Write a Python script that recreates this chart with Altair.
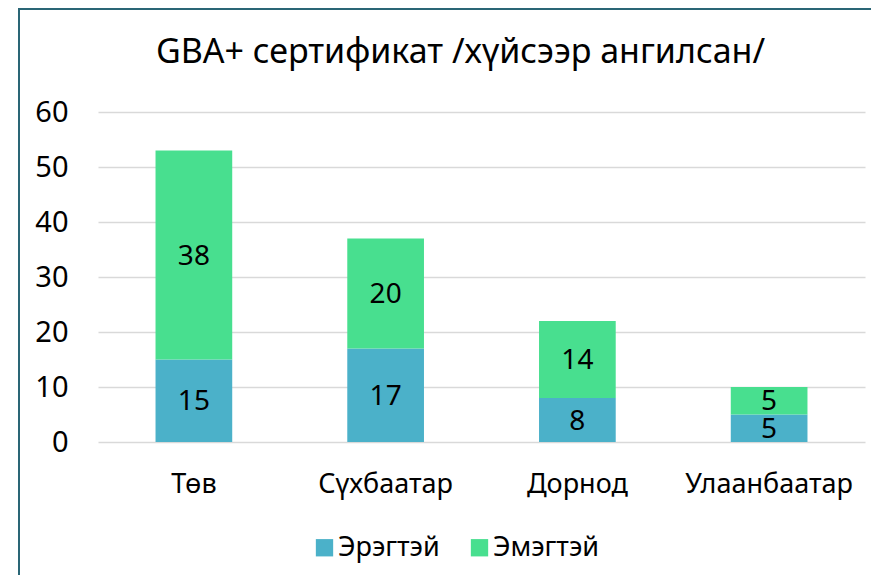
import altair as alt
import pandas as pd

regions = ["Төв", "Сүхбаатар", "Дорнод", "Улаанбаатар"]
male = [15, 17, 8, 5]
female = [38, 20, 14, 5]
series = ["Эрэгтэй", "Эмэгтэй"]
colors = ["#4bb1c9", "#48df8f"]
y_ticks = [0, 10, 20, 30, 40, 50, 60]
title_text = "GBA+ сертификат /хүйсээр ангилсан/"

rows = []
for i, r in enumerate(regions):
    rows.append({"region": r, "sex": series[0], "value": male[i], "ord": 0})
    rows.append({"region": r, "sex": series[1], "value": female[i], "ord": 1})
df = pd.DataFrame(rows)

FONT = "Noto Sans"

base = alt.Chart(df).transform_stack(
    stack="value", groupby=["region"], as_=["v0", "v1"],
    sort=[alt.SortField("ord", order="ascending")]
).transform_calculate(mid="(datum.v0 + datum.v1) / 2")

x_enc = alt.X("region:N", sort=regions, title=None,
              scale=alt.Scale(paddingInner=0.6, paddingOuter=0.3),
              axis=alt.Axis(labelAngle=0, labelFontSize=27, labelFont=FONT,
                            labelColor="#000000", labelPadding=29, ticks=False,
                            domain=False, grid=False))

bars = base.mark_bar().encode(
    x=x_enc,
    y=alt.Y("v0:Q", title=None,
            scale=alt.Scale(domain=[0, 60], nice=False),
            axis=alt.Axis(values=y_ticks, labelFontSize=29, labelFont=FONT,
                          labelColor="#000000", labelPadding=30, ticks=False,
                          domain=False, gridColor="#d9d9d9", gridWidth=1.5)),
    y2="v1:Q",
    color=alt.Color("sex:N", sort=series,
                    scale=alt.Scale(domain=series, range=colors),
                    legend=alt.Legend(title=None, orient="none", direction="horizontal",
                                      legendX=213, legendY=422,
                                      symbolType="square", symbolSize=300,
                                      symbolStrokeWidth=0, symbolOpacity=1,
                                      labelFontSize=27, labelFont=FONT,
                                      labelColor="#000000", columnPadding=26,
                                      labelOffset=0)),
)

labels = base.mark_text(fontSize=28, font=FONT, color="#000000", baseline="middle",
                        dy=1.5).encode(
    x=alt.X("region:N", sort=regions),
    y=alt.Y("mid:Q"),
    text=alt.Text("value:Q"),
)

frame_top = alt.Chart(df).mark_rule(color="#2a6676", strokeWidth=2).encode(
    x=alt.value(-80), x2=alt.value(800), y=alt.value(-103)
)
frame_left = alt.Chart(df).mark_rule(color="#2a6676", strokeWidth=2).encode(
    x=alt.value(-79), y=alt.value(-104), y2=alt.value(500)
)

chart = alt.layer(bars, labels, frame_top, frame_left).properties(
    width=767, height=330,
    autosize=alt.AutoSizeParams(type="none"),
    padding={"left": 90, "top": 104, "right": 6, "bottom": 133},
    title=alt.TitleParams(title_text, fontSize=34, font=FONT, fontWeight="normal",
                          color="#000000", anchor="middle", dx=-21, offset=-90,
                          baseline="alphabetic"),
).configure(background="white").configure_view(stroke=None)

chart.save("out.html", embed_options={"renderer": "svg", "actions": False})
